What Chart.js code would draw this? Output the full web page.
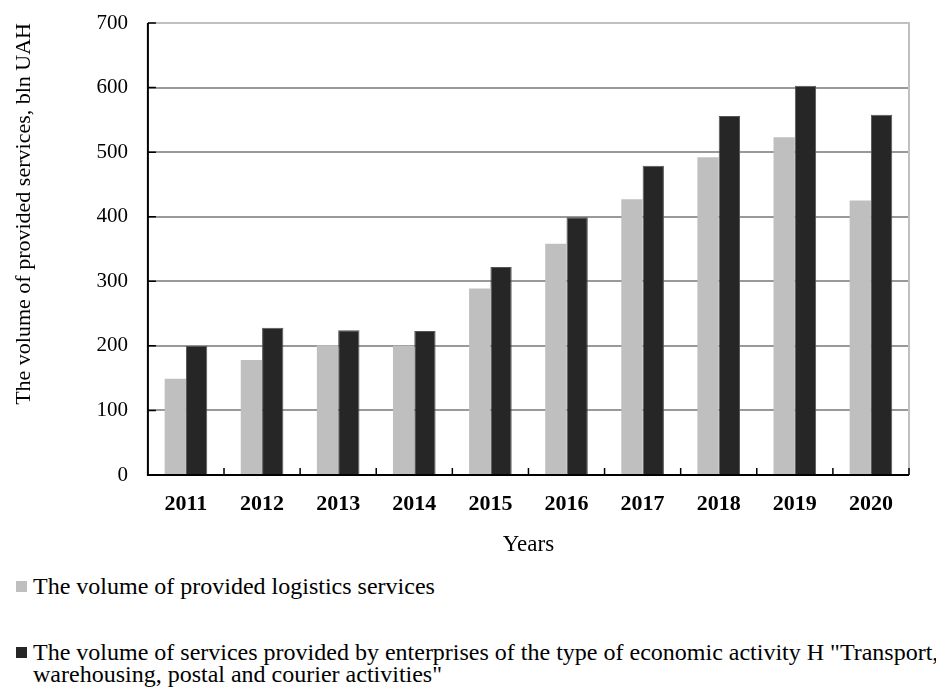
<!DOCTYPE html>
<html>
<head>
<meta charset="utf-8">
<script src="https://cdn.jsdelivr.net/npm/chart.js@4"></script>
<style>
  html, body { margin: 0; padding: 0; background: #fff; overflow: hidden; width: 936px; height: 695px; }
  #wrap { position: relative; width: 936px; height: 560px; }
  #legend { width: 990px; font-family: "Liberation Serif", "Times New Roman", serif; font-size: 24px; color: #000; }
  .item { position: relative; padding-left: 33px; line-height: 22px; }
  .box { position: absolute; left: 16px; top: 6px; width: 11px; height: 11px; }
</style>
</head>
<body>
<div id="wrap"><canvas id="chart" width="936" height="560"></canvas></div>
<div id="legend"></div>
<script>
const years = ["2011", "2012", "2013", "2014", "2015", "2016", "2017", "2018", "2019", "2020"];
const logistics = [149, 178, 201, 200, 289, 358, 427, 492, 523, 425];
const transport = [200, 228, 224, 223, 322, 399, 479, 556, 603, 558];
const seriesNames = [
  "The volume of provided logistics services",
  "The volume of services provided by enterprises of the type of economic activity H \"Transport, warehousing, postal and courier activities\""
];
const yTicks = [0, 100, 200, 300, 400, 500, 600, 700];

const serif = "'Liberation Serif', 'Times New Roman', serif";

// inward tick marks + light frame on top/right
const frame = {
  id: "frame",
  afterDraw(chart) {
    const { ctx, chartArea: a, scales } = chart;
    ctx.save();
    ctx.strokeStyle = "#c0c0c0";
    ctx.lineWidth = 2;
    ctx.beginPath();
    ctx.moveTo(a.left, a.top);
    ctx.lineTo(a.right, a.top);
    ctx.lineTo(a.right, a.bottom);
    ctx.stroke();

    ctx.strokeStyle = "#000";
    ctx.lineWidth = 1.5;
    ctx.beginPath();
    yTicks.forEach((v) => {
      if (v === 0) return;
      const y = scales.y.getPixelForValue(v);
      ctx.moveTo(a.left, y);
      ctx.lineTo(a.left + 8, y);
    });
    for (let i = 1; i <= years.length; i++) {
      let x;
      if (i === years.length) x = a.right;
      else x = (scales.x.getPixelForValue(i - 1) + scales.x.getPixelForValue(i)) / 2;
      ctx.moveTo(x, a.bottom);
      ctx.lineTo(x, a.bottom - 7);
    }
    ctx.stroke();
    // axis lines
    ctx.lineWidth = 2;
    ctx.beginPath();
    ctx.moveTo(a.left, a.top);
    ctx.lineTo(a.left, a.bottom);
    ctx.lineTo(a.right, a.bottom);
    ctx.stroke();
    ctx.restore();
  }
};

const myChart = new Chart(document.getElementById("chart"), {
  type: "bar",
  data: {
    labels: years,
    datasets: [
      { label: seriesNames[0], data: logistics, backgroundColor: "#bfbfbf" },
      { label: seriesNames[1], data: transport, backgroundColor: "#262626", borderColor: "#555", borderWidth: 1 }
    ]
  },
  options: {
    responsive: false,
    animation: false,
    layout: { padding: { top: 23, right: 27, bottom: 1, left: 7 } },
    plugins: { legend: { display: false }, tooltip: { enabled: false } },
    datasets: { bar: { categoryPercentage: 0.56, barPercentage: 1 } },
    scales: {
      x: {
        grid: { display: false },
        border: { display: false },
        ticks: { color: "#000", font: { family: serif, size: 22, weight: "bold" }, padding: 8 },
        title: { display: true, text: "Years", color: "#000", font: { family: serif, size: 23 }, padding: { top: 6, bottom: 0 } }
      },
      y: {
        min: 0,
        max: 700,
        afterBuildTicks: (scale) => { scale.ticks = yTicks.map((v) => ({ value: v })); },
        // labels may hang over the top/bottom, the layout padding leaves room
        afterFit: (scale) => { scale.paddingTop = 0; scale.paddingBottom = 0; },
        grid: {
          color: (c) => (c.tick && c.tick.value === 700 ? "#c0c0c0" : "#999999"),
          lineWidth: 2,
          drawTicks: false
        },
        border: { display: false },
        ticks: { color: "#000", font: { family: serif, size: 21 }, padding: 20 },
        title: { display: true, text: "The volume of provided services, bln UAH", color: "#000", font: { family: serif, size: 22 }, align: "end", padding: { bottom: 39 } }
      }
    }
  },
  plugins: [frame]
});

// html legend below the chart
const legend = document.getElementById("legend");
myChart.data.datasets.forEach((ds, i) => {
  const item = document.createElement("div");
  item.className = "item";
  item.style.marginTop = i === 0 ? "15px" : "44px";
  const box = document.createElement("span");
  box.className = "box";
  box.style.background = ds.backgroundColor;
  item.appendChild(box);
  item.appendChild(document.createTextNode(ds.label));
  legend.appendChild(item);
});
</script>
</body>
</html>
